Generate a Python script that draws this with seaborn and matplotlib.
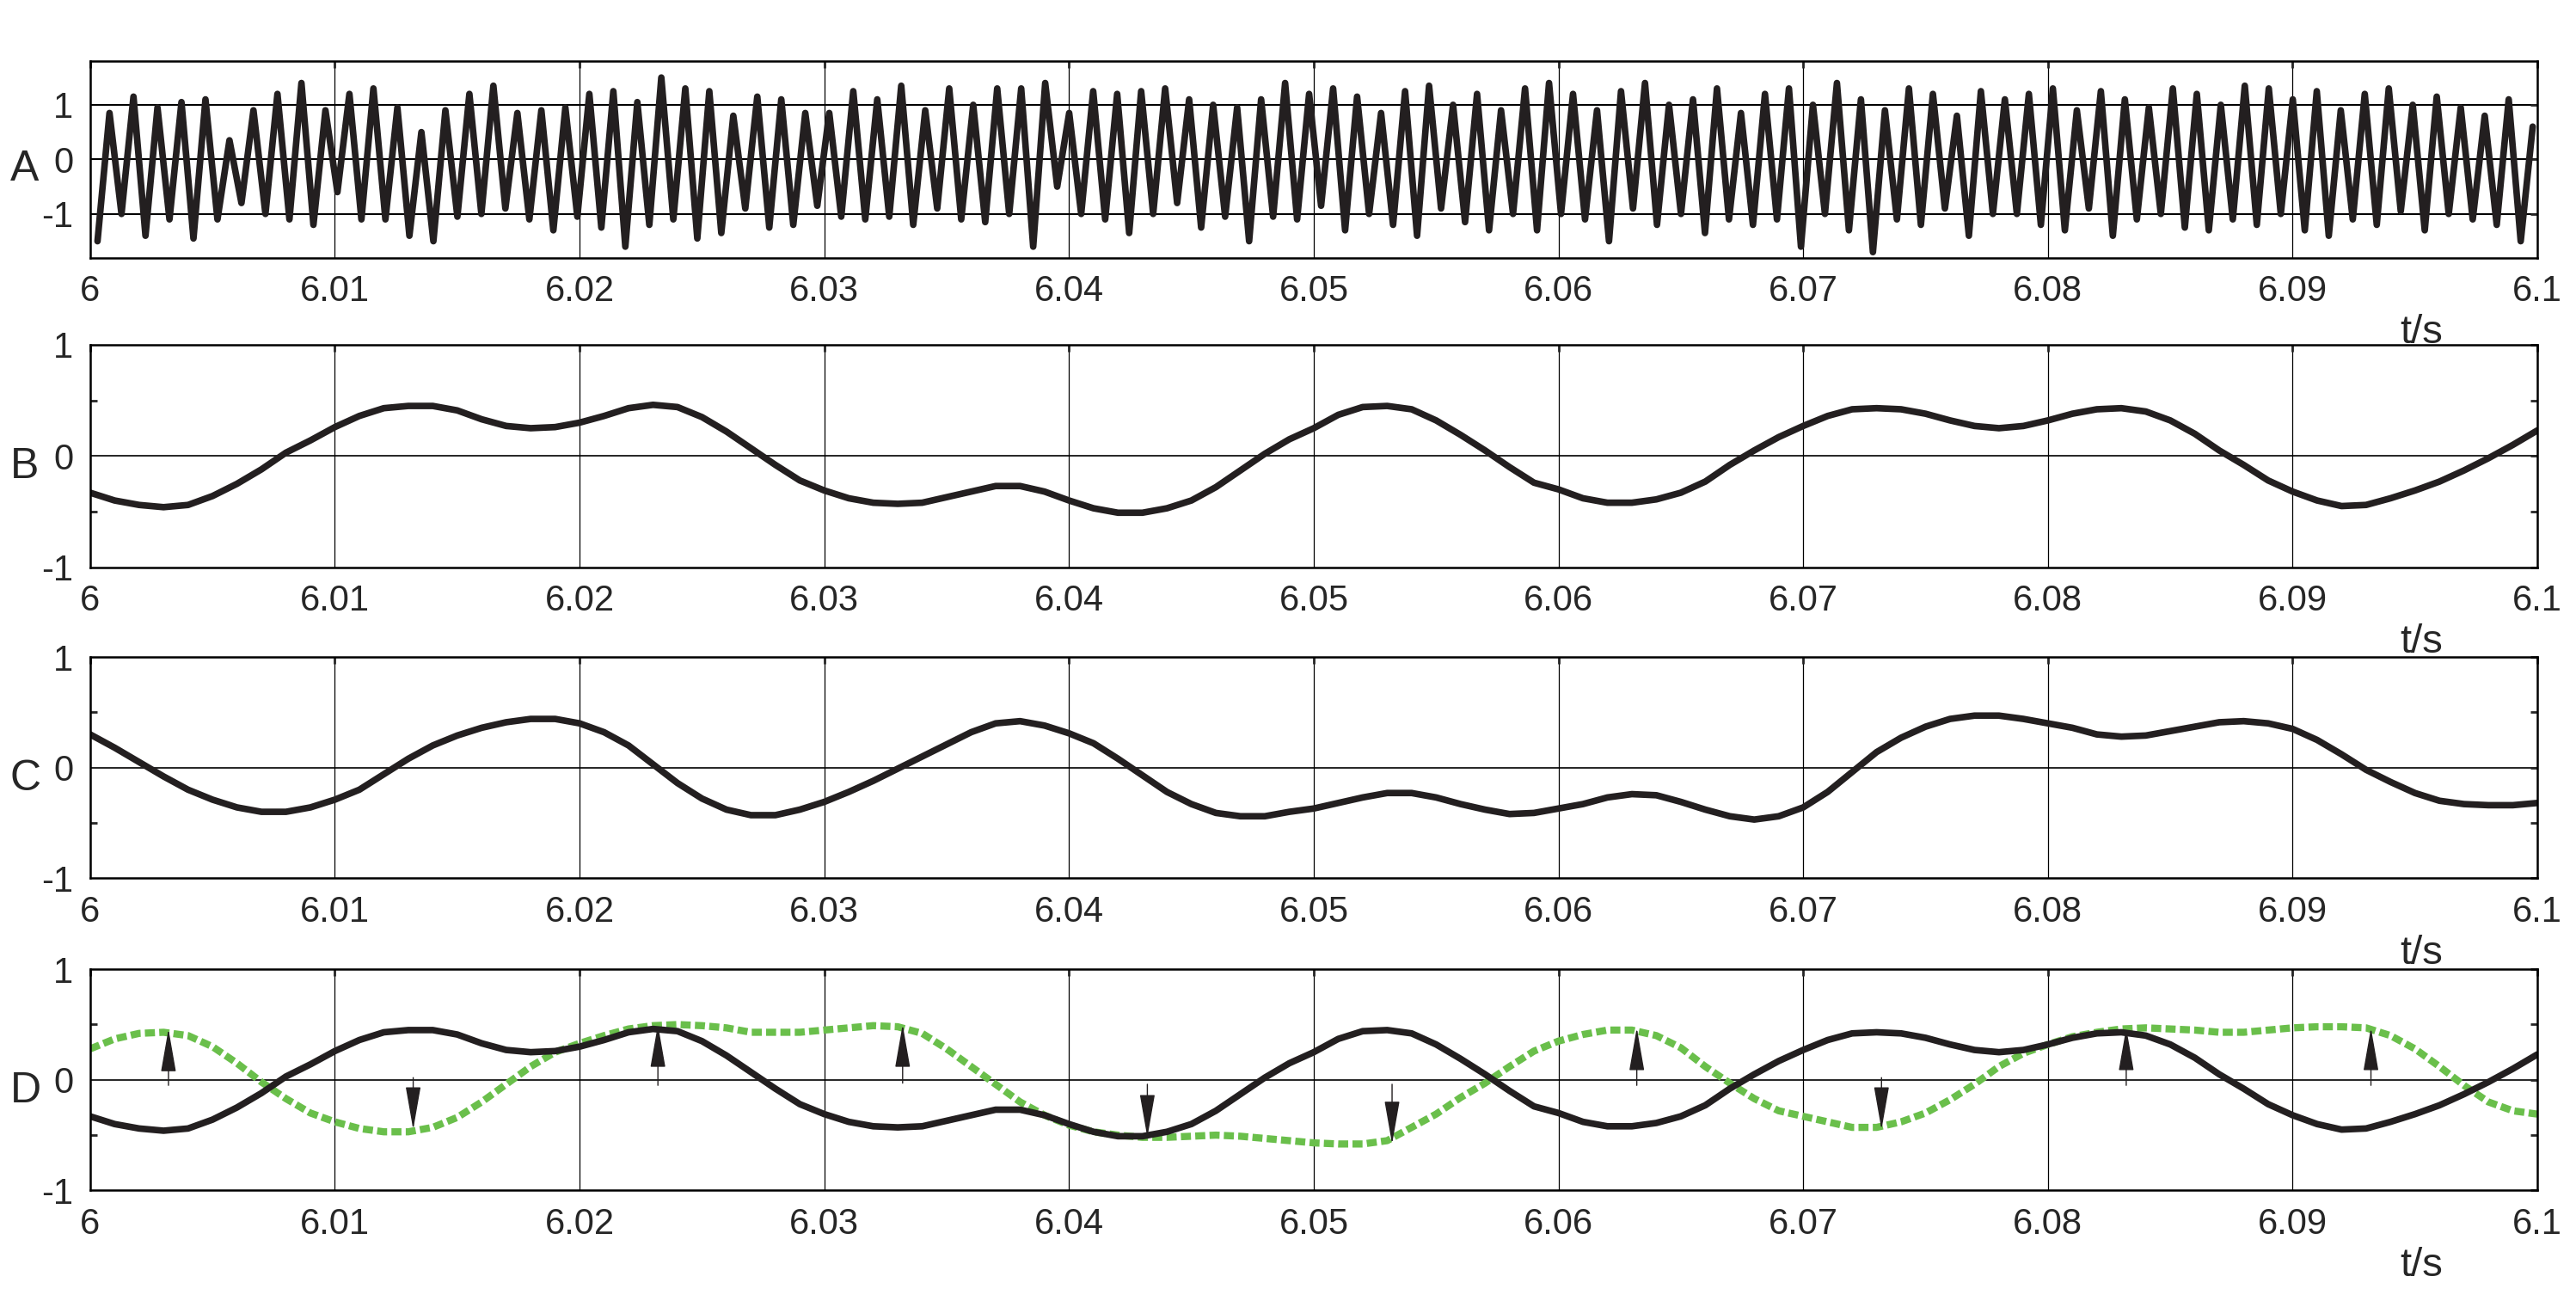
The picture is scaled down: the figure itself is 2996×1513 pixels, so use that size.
import matplotlib
matplotlib.use("Agg")
import matplotlib.pyplot as plt
import numpy as np
import pandas as pd
import seaborn as sns

# ---- data ----
# panel A: alternating troughs / peaks of the distorted signal, one pair per cycle
a_peaks = [0.85, 1.15, 0.95, 1.05, 1.1, 0.35, 0.9, 1.2, 1.4, 0.9,
           1.2, 1.3, 0.95, 0.5, 0.9, 1.2, 1.35, 0.85, 0.9, 0.95,
           1.2, 1.25, 1.05, 1.5, 1.3, 1.25, 0.8, 1.15, 1.1, 0.85,
           0.85, 1.25, 1.1, 1.35, 0.9, 1.3, 1.0, 1.3, 1.3, 1.4,
           0.85, 1.25, 1.2, 1.25, 1.3, 1.1, 1.0, 0.95, 1.1, 1.4,
           1.2, 1.3, 1.15, 0.85, 1.25, 1.35, 1.0, 1.2, 0.9, 1.3,
           1.4, 1.2, 0.9, 1.25, 1.4, 1.0, 1.1, 1.3, 0.85, 1.2,
           1.3, 1.0, 1.4, 1.1, 0.9, 1.3, 1.2, 0.8, 1.25, 1.1,
           1.2, 1.3, 0.9, 1.25, 1.1, 0.95, 1.3, 1.2, 1.0, 1.35,
           1.3, 1.1, 1.25, 0.9, 1.2, 1.3, 1.0, 1.15, 0.95, 0.8, 1.1, 0.6]
a_troughs = [-1.5, -1.0, -1.4, -1.1, -1.45, -1.1, -0.8, -1.0, -1.1, -1.2,
             -0.6, -1.1, -1.1, -1.4, -1.5, -1.05, -1.0, -0.9, -1.1, -1.3,
             -1.05, -1.25, -1.6, -1.2, -1.1, -1.45, -1.35, -0.9, -1.25, -1.2,
             -0.85, -1.05, -1.1, -1.05, -1.2, -0.9, -1.1, -1.15, -1.0, -1.6,
             -0.5, -1.0, -1.1, -1.35, -1.0, -0.8, -1.25, -1.05, -1.5, -1.05,
             -1.1, -0.85, -1.3, -1.0, -1.2, -1.4, -0.9, -1.15, -1.3, -1.0,
             -1.3, -1.0, -1.1, -1.5, -0.9, -1.2, -1.0, -1.35, -1.1, -1.2,
             -1.1, -1.6, -1.0, -1.3, -1.7, -1.1, -1.2, -0.9, -1.4, -1.0,
             -1.0, -1.2, -1.3, -0.9, -1.4, -1.1, -1.0, -1.25, -1.3, -1.1,
             -1.2, -1.0, -1.3, -1.4, -1.1, -1.2, -0.95, -1.3, -1.0, -1.1, -1.2, -1.5]

# panels B, C, D sampled every 1 ms from 6.000 to 6.100 s
t_ms = np.arange(101)
b_vals = [-0.33, -0.40, -0.44, -0.46, -0.44, -0.36, -0.25, -0.12, 0.03, 0.14,
          0.26, 0.36, 0.43, 0.45, 0.45, 0.41, 0.33, 0.27, 0.25, 0.26,
          0.30, 0.36, 0.43, 0.46, 0.44, 0.35, 0.22, 0.07, -0.08, -0.22,
          -0.31, -0.38, -0.42, -0.43, -0.42, -0.37, -0.32, -0.27, -0.27, -0.32,
          -0.40, -0.47, -0.51, -0.51, -0.47, -0.40, -0.28, -0.13, 0.02, 0.15,
          0.25, 0.37, 0.44, 0.45, 0.42, 0.32, 0.19, 0.05, -0.10, -0.24,
          -0.30, -0.38, -0.42, -0.42, -0.39, -0.33, -0.23, -0.08, 0.05, 0.17,
          0.27, 0.36, 0.42, 0.43, 0.42, 0.38, 0.32, 0.27, 0.25, 0.27,
          0.32, 0.38, 0.42, 0.43, 0.40, 0.32, 0.20, 0.05, -0.08, -0.22,
          -0.32, -0.40, -0.45, -0.44, -0.38, -0.31, -0.23, -0.13, -0.02, 0.10, 0.23]
c_vals = [0.30, 0.18, 0.05, -0.08, -0.20, -0.29, -0.36, -0.40, -0.40, -0.36,
          -0.29, -0.20, -0.06, 0.08, 0.20, 0.29, 0.36, 0.41, 0.44, 0.44,
          0.40, 0.32, 0.20, 0.03, -0.14, -0.28, -0.38, -0.43, -0.43, -0.38,
          -0.31, -0.22, -0.12, -0.01, 0.10, 0.21, 0.32, 0.40, 0.42, 0.38,
          0.31, 0.22, 0.08, -0.07, -0.22, -0.33, -0.41, -0.44, -0.44, -0.40,
          -0.37, -0.32, -0.27, -0.23, -0.23, -0.27, -0.33, -0.38, -0.42, -0.41,
          -0.37, -0.33, -0.27, -0.24, -0.25, -0.31, -0.38, -0.44, -0.47, -0.44,
          -0.36, -0.22, -0.04, 0.14, 0.27, 0.37, 0.44, 0.47, 0.47, 0.44,
          0.40, 0.36, 0.30, 0.28, 0.29, 0.33, 0.37, 0.41, 0.42, 0.40,
          0.35, 0.25, 0.12, -0.02, -0.13, -0.23, -0.30, -0.33, -0.34, -0.34, -0.32]
d_green = [0.28, 0.37, 0.42, 0.43, 0.40, 0.30, 0.15, -0.02, -0.17, -0.30,
           -0.38, -0.44, -0.47, -0.47, -0.43, -0.34, -0.20, -0.04, 0.12, 0.25,
           0.33, 0.40, 0.46, 0.49, 0.50, 0.49, 0.47, 0.43, 0.43, 0.43,
           0.45, 0.47, 0.49, 0.48, 0.42, 0.28, 0.12, -0.04, -0.20, -0.32,
           -0.41, -0.47, -0.50, -0.52, -0.52, -0.51, -0.50, -0.51, -0.53, -0.55,
           -0.57, -0.58, -0.58, -0.55, -0.43, -0.31, -0.16, -0.03, 0.12, 0.26,
           0.35, 0.41, 0.45, 0.45, 0.40, 0.29, 0.12, -0.03, -0.17, -0.28,
           -0.33, -0.38, -0.43, -0.43, -0.38, -0.30, -0.18, -0.04, 0.12, 0.24,
           0.32, 0.39, 0.43, 0.46, 0.47, 0.46, 0.45, 0.43, 0.43, 0.45,
           0.47, 0.48, 0.48, 0.47, 0.40, 0.28, 0.12, -0.05, -0.20, -0.28, -0.31]

# arrows in panel D: (time, tail y, head y)
arrow_t = [6.0032, 6.0132, 6.0232, 6.0332, 6.0432, 6.0532, 6.0632, 6.0732, 6.0832, 6.0932]
arrow_from = [-0.05, 0.02, -0.05, -0.03, -0.04, -0.04, -0.05, 0.02, -0.05, -0.05]
arrow_to = [0.46, -0.45, 0.50, 0.50, -0.52, -0.58, 0.47, -0.45, 0.47, 0.47]

x_ticks = [6, 6.01, 6.02, 6.03, 6.04, 6.05, 6.06, 6.07, 6.08, 6.09, 6.1]
x_labels = ["6", "6.01", "6.02", "6.03", "6.04", "6.05", "6.06", "6.07", "6.08", "6.09", "6.1"]

# ---- build frames ----
n_cyc = len(a_peaks)
period = 0.1 / n_cyc
a_t, a_y = [], []
for k in range(n_cyc):
    a_t += [6.0003 + k * period, 6.0003 + k * period + period / 2]
    a_y += [a_troughs[k], a_peaks[k]]
df_a = pd.DataFrame({"t": a_t, "y": a_y})
df_a = df_a[df_a.t <= 6.1]

t_bcd = 6 + t_ms / 1000
df_b = pd.DataFrame({"t": t_bcd, "y": b_vals})
df_c = pd.DataFrame({"t": t_bcd, "y": c_vals})
df_g = pd.DataFrame({"t": t_bcd, "y": d_green})

sns.set_style("white")
plt.rcParams["font.family"] = ["Liberation Sans", "DejaVu Sans"]

fig = plt.figure(figsize=(29.96, 15.13), dpi=100)
rects = [(0.035, 0.802, 0.950, 0.151),
         (0.035, 0.564, 0.950, 0.171),
         (0.035, 0.325, 0.950, 0.170),
         (0.035, 0.085, 0.950, 0.170)]
names = ["A", "B", "C", "D"]
line_c = "#231f20"

for i, r in enumerate(rects):
    ax = fig.add_axes(r)
    if i == 0:
        sns.lineplot(data=df_a, x="t", y="y", ax=ax, color=line_c, lw=5.5, sort=False)
        ax.set_ylim(-1.8, 1.8)
        for yy in (-1, 0, 1):
            ax.axhline(yy, color="black", lw=1.5, zorder=0)
    else:
        df = df_c if i == 2 else df_b
        ax.axhline(0, color="black", lw=1.2, zorder=0)
        if i == 3:
            sns.lineplot(data=df_g, x="t", y="y", ax=ax, color="#6abf4b", lw=6,
                         linestyle=(0, (1.4, 0.6)))
        sns.lineplot(data=df, x="t", y="y", ax=ax, color=line_c, lw=5.5)
        ax.set_ylim(-1, 1)
        ax.set_yticks([-0.5, 0.5], minor=True)
    for xx in x_ticks[1:-1]:
        ax.axvline(xx, color="black", lw=0.9, zorder=0)
    ax.set_xlim(6, 6.1)
    ax.set_xticks(x_ticks)
    ax.set_xticklabels(x_labels)
    ax.set_yticks([-1, 0, 1])
    ax.set_yticklabels(["-1", "0", "1"])
    ax.tick_params(direction="in", top=True, right=True, length=6, width=2,
                   labelsize=30, pad=14)
    ax.tick_params(which="minor", direction="in", left=True, right=True, length=6, width=2)
    ax.set_xlabel("")
    ax.set_ylabel("")
    for s in ax.spines.values():
        s.set_color("black")
        s.set_linewidth(1.8)
    fig.text(0.004, r[1] + r[3] * 0.45, names[i], fontsize=36, ha="left", va="center")
    fig.text(0.94, r[1] - 0.058, "t/s", fontsize=34, ha="center", va="center")
    if i == 3:
        for t, y0, y1 in zip(arrow_t, arrow_from, arrow_to):
            ax.annotate("", xy=(t, y1), xytext=(t, y0),
                        arrowprops=dict(arrowstyle="-|>,head_length=2.0,head_width=0.35",
                                        mutation_scale=16, color=line_c, lw=1.0,
                                        shrinkA=0, shrinkB=0))

fig.savefig("out.png", dpi=100)
